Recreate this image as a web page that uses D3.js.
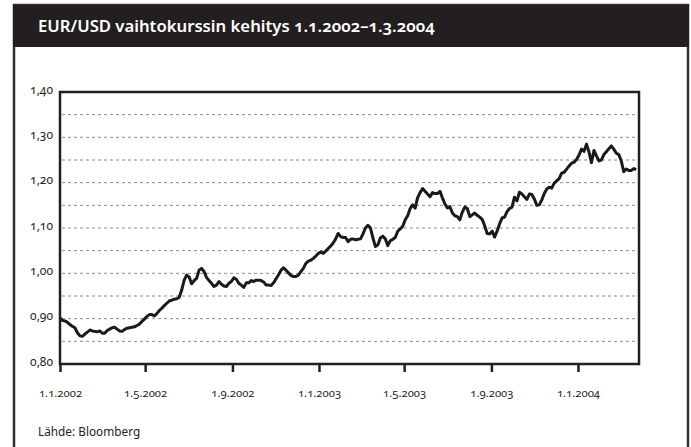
<!DOCTYPE html>
<html>
<head>
<meta charset="utf-8">
<script src="https://cdn.jsdelivr.net/npm/d3@7"></script>
<style>
  body { margin: 0; background: #fff; }
  svg text { font-family: "Noto Sans", "Open Sans", sans-serif; fill: #231f20; font-variant-numeric: oldstyle-nums; }
</style>
</head>
<body>
<svg id="chart" width="691" height="447"></svg>
<script>
// EUR/USD, one value every 3.5 days from 1.1.2002
const startDate = "1.1.2002";
const endDate = "27.3.2004";
const stepHours = 84;
const rates = [
  0.901, 0.896, 0.895, 0.892, 0.887, 0.883, 0.880, 0.869, 0.862, 0.861,
  0.866, 0.870, 0.875, 0.873, 0.872, 0.871, 0.873, 0.868, 0.868, 0.874,
  0.877, 0.880, 0.881, 0.877, 0.873, 0.872, 0.876, 0.879, 0.880, 0.881,
  0.882, 0.885, 0.888, 0.894, 0.899, 0.905, 0.909, 0.909, 0.906, 0.911,
  0.918, 0.923, 0.929, 0.934, 0.939, 0.941, 0.943, 0.944, 0.947, 0.963,
  0.985, 0.996, 0.992, 0.977, 0.984, 0.989, 1.007, 1.011, 1.004, 0.991,
  0.984, 0.978, 0.971, 0.974, 0.982, 0.976, 0.972, 0.971, 0.978, 0.982,
  0.990, 0.987, 0.978, 0.974, 0.969, 0.979, 0.979, 0.984, 0.982, 0.985,
  0.985, 0.984, 0.981, 0.974, 0.974, 0.973, 0.979, 0.988, 0.997, 1.007,
  1.012, 1.007, 1.001, 0.995, 0.993, 0.993, 0.996, 1.004, 1.011, 1.022,
  1.027, 1.029, 1.033, 1.038, 1.044, 1.047, 1.044, 1.049, 1.055, 1.060,
  1.067, 1.076, 1.088, 1.081, 1.079, 1.079, 1.070, 1.075, 1.076, 1.074,
  1.075, 1.076, 1.087, 1.100, 1.106, 1.100, 1.078, 1.059, 1.063, 1.078,
  1.082, 1.076, 1.061, 1.072, 1.075, 1.079, 1.093, 1.098, 1.104, 1.118,
  1.127, 1.143, 1.151, 1.144, 1.167, 1.178, 1.187, 1.181, 1.175, 1.169,
  1.178, 1.176, 1.176, 1.181, 1.166, 1.153, 1.144, 1.147, 1.133, 1.127,
  1.125, 1.118, 1.135, 1.146, 1.143, 1.125, 1.129, 1.133, 1.128, 1.124,
  1.119, 1.105, 1.088, 1.087, 1.093, 1.080, 1.093, 1.109, 1.122, 1.124,
  1.136, 1.143, 1.146, 1.168, 1.160, 1.179, 1.175, 1.169, 1.163, 1.175,
  1.174, 1.164, 1.150, 1.151, 1.162, 1.176, 1.186, 1.190, 1.188, 1.199,
  1.204, 1.209, 1.221, 1.223, 1.230, 1.237, 1.243, 1.245, 1.251, 1.261,
  1.274, 1.269, 1.285, 1.268, 1.244, 1.271, 1.259, 1.248, 1.250, 1.262,
  1.268, 1.275, 1.281, 1.274, 1.265, 1.262, 1.248, 1.224, 1.230, 1.227,
  1.227, 1.231, 1.229
];
const yTicks = [0.80, 0.90, 1.00, 1.10, 1.20, 1.30, 1.40];
const gridValues = [0.85, 0.90, 0.95, 1.00, 1.05, 1.10, 1.15, 1.20, 1.25, 1.30, 1.35];
const xTickLabels = ["1.1.2002", "1.5.2002", "1.9.2002", "1.1.2003", "1.5.2003", "1.9.2003", "1.1.2004"];
const title = "EUR/USD vaihtokurssin kehitys 1.1.2002–1.3.2004";
const source = "Lähde: Bloomberg";

const parseDate = d3.timeParse("%d.%m.%Y");
const t0 = parseDate(startDate);
const data = rates.map((v, i) => ({ date: d3.timeHour.offset(t0, stepHours * i), value: v }));

const svg = d3.select("#chart");
const dark = "#231f20";

// outer frame + title bar
svg.append("rect").attr("x", 14).attr("y", 5).attr("width", 674).attr("height", 460)
  .attr("fill", "none").attr("stroke", "#333").attr("stroke-width", 2.5);
svg.append("rect").attr("x", 13).attr("y", 5).attr("width", 676).attr("height", 42)
  .attr("fill", dark);
svg.append("text").attr("x", 38).attr("y", 31.5)
  .style("font-size", "16.7px").style("font-weight", 600).style("fill", "#fff")
  .text(title);

const plot = { left: 60, right: 639, top: 92, bottom: 364 };

const x = d3.scaleTime()
  .domain([t0, parseDate(endDate)])
  .range([plot.left, plot.right]);
const y = d3.scaleLinear()
  .domain([0.80, 1.40])
  .range([plot.bottom, plot.top]);

// dashed grid
svg.append("g").selectAll("line")
  .data(gridValues)
  .enter()
  .append("line")
  .attr("x1", plot.left + 2).attr("x2", plot.right - 2)
  .attr("y1", d => y(d)).attr("y2", d => y(d))
  .attr("stroke", "#8c8c8c").attr("stroke-width", 1)
  .attr("stroke-dasharray", "3,3");

// y axis labels
const fmt = d => d3.format(".2f")(d).replace(".", ",");
svg.append("g").selectAll("text")
  .data(yTicks)
  .enter()
  .append("text")
  .attr("x", 53)
  .attr("y", d => y(d) - 1.5)
  .attr("text-anchor", "end")
  .attr("dominant-baseline", "middle")
  .style("font-size", "12px")
  .text(fmt);

// x axis ticks + labels
const xAxis = d3.axisBottom(x)
  .tickValues(xTickLabels.map(parseDate))
  .tickSize(8)
  .tickPadding(17)
  .tickFormat((d, i) => xTickLabels[i]);
const gx = svg.append("g")
  .attr("transform", "translate(0," + plot.bottom + ")")
  .call(xAxis);
gx.select(".domain").remove();
gx.selectAll(".tick line").attr("stroke", dark).attr("stroke-width", 2.5);
gx.selectAll(".tick text")
  .style("font-family", "\"Noto Sans\", sans-serif")
  .style("font-size", "11.3px")
  .attr("fill", dark);

// plot frame
svg.append("rect")
  .attr("x", plot.left).attr("y", plot.top)
  .attr("width", plot.right - plot.left).attr("height", plot.bottom - plot.top)
  .attr("fill", "none").attr("stroke", dark).attr("stroke-width", 2.5);

// the rate line
const line = d3.line()
  .x(d => x(d.date))
  .y(d => y(d.value));
svg.append("path")
  .datum(data)
  .attr("d", line)
  .attr("fill", "none")
  .attr("stroke", "#1a1a1a")
  .attr("stroke-width", 3)
  .attr("stroke-linejoin", "round");

svg.append("text").attr("x", 38).attr("y", 436)
  .style("font-size", "11.8px")
  .text(source);
</script>
</body>
</html>
